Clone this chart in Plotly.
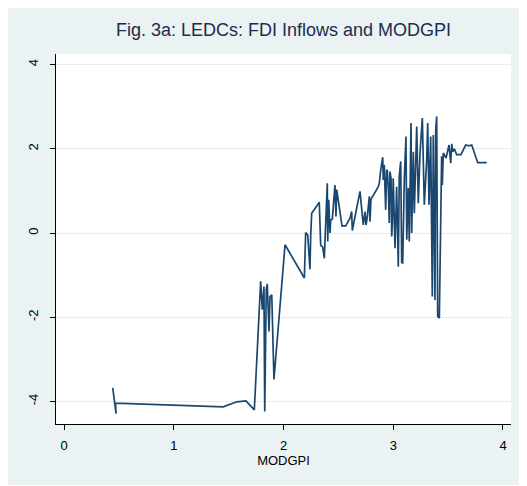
import plotly.graph_objects as go

# MODGPI (x) and FDI inflows (y), in plotting order
modgpi = [0.444, 0.474, 0.469, 1.451, 1.574, 1.658, 1.734, 1.792, 1.807, 1.822,
          1.829, 1.843, 1.852, 1.868, 1.877, 1.893, 1.913, 2.014, 2.190, 2.202,
          2.221, 2.241, 2.248, 2.257, 2.326, 2.339, 2.357, 2.372, 2.399, 2.403,
          2.412, 2.424, 2.430, 2.445, 2.469, 2.478, 2.485, 2.533, 2.567, 2.606,
          2.621, 2.627, 2.697, 2.727, 2.743, 2.752, 2.764, 2.782, 2.788, 2.797,
          2.864, 2.873, 2.886, 2.895, 2.904, 2.909, 2.918, 2.931, 2.940, 2.946,
          2.955, 2.964, 2.970, 2.980, 2.986, 2.991, 3.000, 3.010, 3.016, 3.031,
          3.046, 3.055, 3.068, 3.077, 3.086, 3.101, 3.116, 3.123, 3.137, 3.146,
          3.162, 3.168, 3.183, 3.192, 3.214, 3.228, 3.244, 3.265, 3.283, 3.305,
          3.314, 3.326, 3.341, 3.356, 3.365, 3.380, 3.387, 3.396, 3.405, 3.420,
          3.441, 3.447, 3.456, 3.481, 3.508, 3.524, 3.533, 3.542, 3.557, 3.578,
          3.617, 3.660, 3.690, 3.715, 3.770, 3.851]
fdi = [-3.68, -4.29, -4.04, -4.13, -4.01, -3.99, -4.20, -1.15, -1.82, -1.27,
       -4.24, -1.35, -1.21, -2.34, -1.51, -1.47, -3.48, -0.28, -1.07, 0.01,
       -0.05, -0.86, -0.06, 0.47, 0.73, -0.30, -0.33, -0.60, 1.18, -0.20,
       0.79, 0.00, 0.31, 0.33, 1.14, 0.39, 1.03, 0.17, 0.17, 0.35,
       0.51, 0.06, 0.99, 0.19, 0.51, 0.19, 0.39, 0.87, 0.27, 0.80,
       1.10, 1.18, 1.50, 1.62, 1.80, 1.26, 1.62, 0.55, 1.50, 1.48,
       1.07, 0.24, 1.46, 1.30, -0.08, 0.24, 1.30, -0.32, -0.36, 1.10,
       -0.80, 1.34, 1.70, -0.70, -0.71, 1.30, 2.29, -0.16, 1.07, -0.20,
       2.61, 0.00, 1.93, 0.47, 2.53, 0.71, 1.90, 2.73, 0.67, 1.74,
       2.61, 0.67, 2.29, -1.51, 2.33, -1.59, 2.45, 2.77, -1.98, -2.02,
       1.82, 1.14, 1.90, 1.78, 2.09, 1.66, 2.12, 1.93, 2.00, 1.86,
       1.86, 2.09, 2.07, 2.09, 1.67, 1.67]

x_ticks = [0, 1, 2, 3, 4]
y_ticks = [-4, -2, 0, 2, 4]

title_text = "Fig. 3a: LEDCs: FDI Inflows and MODGPI"
x_title = "MODGPI"

BG = "#EAF2F3"
LINE = "#1A476F"
FONT = "Liberation Sans, Arial, sans-serif"

fig = go.Figure()
fig.add_trace(go.Scatter(x=modgpi, y=fdi, mode="lines",
                         line=dict(color=LINE, width=1.7),
                         showlegend=False, hoverinfo="skip"))

# the page body has an 8px default margin, so the figure is sized to fit
fig.update_layout(
    width=519, height=478,
    margin=dict(l=48, r=16, t=46, b=62, autoexpand=False),
    paper_bgcolor="white",
    plot_bgcolor="white",
    font=dict(family=FONT, size=13, color="#000000"),
    title=dict(text=title_text, x=0.5, xref="paper", xanchor="center",
               y=1 - 22 / 478, yref="container", yanchor="middle",
               font=dict(family=FONT, size=18, color="#1E2B4D")),
    shapes=[
        dict(type="rect", xref="paper", yref="paper",
             x0=-0.1143, x1=1.0242, y0=-0.1649, y1=1.127,
             fillcolor=BG, line=dict(width=0), layer="below"),
        dict(type="rect", xref="paper", yref="paper",
             x0=0, x1=1, y0=0, y1=1,
             fillcolor="white", line=dict(width=0), layer="below"),
    ],
)

fig.update_xaxes(
    range=[-0.073, 4.073], tickvals=x_ticks, ticktext=[str(v) for v in x_ticks],
    showgrid=False, zeroline=False, automargin=False,
    showline=True, linecolor="#000000", linewidth=1,
    ticks="outside", ticklen=5, tickcolor="#000000", tickwidth=1,
    ticklabelstandoff=4,
    tickfont=dict(family=FONT, size=13, color="#000000"),
    title=dict(text=x_title, standoff=4,
               font=dict(family=FONT, size=13, color="#000000")),
)
fig.update_yaxes(
    range=[-4.537, 4.252], tickvals=y_ticks, ticktext=[str(v) for v in y_ticks],
    showgrid=True, gridcolor="#E6EEF0", gridwidth=1, zeroline=False,
    automargin=False,
    showline=True, linecolor="#000000", linewidth=1,
    ticks="outside", ticklen=5, tickcolor="#000000", tickwidth=1,
    tickangle=-90, ticklabelstandoff=7,
    tickfont=dict(family=FONT, size=13, color="#000000"),
)

fig.write_html("out.html")
